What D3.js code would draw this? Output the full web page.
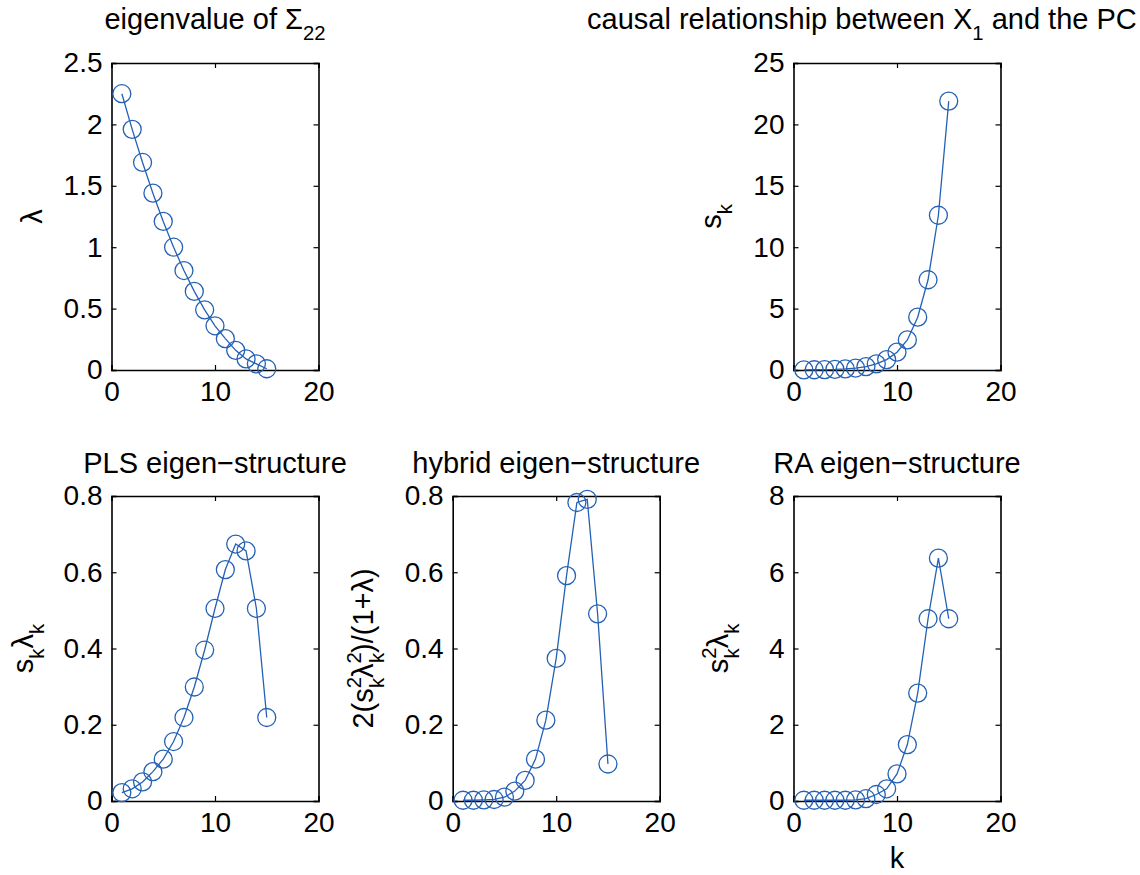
<!DOCTYPE html>
<html lang="en">
  <head>
    <meta charset="UTF-8" />
    <title>eigen-structure</title>
    <script src="https://d3js.org/d3.v7.min.js"></script>
    <style>
      body { margin: 0; background: #fff; }
      text { font-family: "Liberation Sans", Arial, Helvetica, sans-serif; fill: #000; }
    </style>
  </head>
  <body>
    <div id="chart"></div>
  </body>
</html>

<script>
  // component index
  const k = [1, 2, 3, 4, 5, 6, 7, 8, 9, 10, 11, 12, 13, 14, 15]

  // values
  const lambda = [2.25, 1.96, 1.69, 1.44, 1.21, 1.0, 0.81, 0.64, 0.49, 0.36, 0.255, 0.16, 0.09, 0.05, 0.01]
  const sk = [0.01, 0.02, 0.03, 0.05, 0.09, 0.16, 0.28, 0.5, 0.85, 1.45, 2.45, 4.3, 7.35, 12.6, 21.9]
  const pls = [0.022, 0.032, 0.05, 0.077, 0.11, 0.156, 0.219, 0.299, 0.396, 0.505, 0.607, 0.674, 0.656, 0.505, 0.219]
  const hybrid = [0.002, 0.002, 0.003, 0.004, 0.01, 0.026, 0.054, 0.11, 0.212, 0.374, 0.591, 0.783, 0.791, 0.491, 0.097]
  const ra = [0.02, 0.02, 0.02, 0.02, 0.02, 0.03, 0.06, 0.17, 0.32, 0.71, 1.48, 2.83, 4.78, 6.37, 4.78]

  // tick values
  const xTicks = [0, 10, 20]
  const lambdaTicks = [0, 0.5, 1, 1.5, 2, 2.5]
  const skTicks = [0, 5, 10, 15, 20, 25]
  const plsTicks = [0, 0.2, 0.4, 0.6, 0.8]
  const raTicks = [0, 2, 4, 6, 8]

  const blue = "#2461b5"
  const FS = 28 // tick labels
  const TS = 29 // titles and axis labels

  const svg = d3
    .select("#chart")
    .append("svg")
    .attr("width", 1140)
    .attr("height", 875)

  svg.append("rect").attr("width", 1140).attr("height", 875).attr("fill", "#fff")

  // label parts: [text, "n" | "sub" | "sup", dx]
  function richText(sel, parts, size) {
    let level = 0
    parts.forEach(([t, kind, dx]) => {
      const sp = sel.append("tspan").text(t)
      let target = 0
      if (kind === "sub") { sp.attr("font-size", size * 0.7); target = 11 }
      else if (kind === "sup") { sp.attr("font-size", size * 0.7); target = -12 }
      sp.attr("dy", target - level)
      level = target
      if (dx) sp.attr("dx", dx)
    })
  }

  function panel(opt) {
    const { x0, y0, w, h, values, yMax, yTicks, title, ylabel, ylabelX, xlabel } = opt
    const g = svg.append("g")

    const x = d3.scaleLinear().domain([0, 20]).range([x0, x0 + w])
    const y = d3.scaleLinear().domain([0, yMax]).range([y0 + h, y0])
    const fmt = (d) => d3.format("~g")(d)

    // axes, MATLAB style: ticks inside, on all four sides
    g.append("g")
      .attr("transform", `translate(0,${y0 + h})`)
      .call(d3.axisBottom(x).tickValues(xTicks).tickSize(-5).tickPadding(11).tickFormat(fmt))
    g.append("g")
      .attr("transform", `translate(0,${y0})`)
      .call(d3.axisTop(x).tickValues(xTicks).tickSize(-5).tickFormat(""))
    g.append("g")
      .attr("transform", `translate(${x0},0)`)
      .call(d3.axisLeft(y).tickValues(yTicks).tickSize(-5).tickPadding(9).tickFormat(fmt))
    g.append("g")
      .attr("transform", `translate(${x0 + w},0)`)
      .call(d3.axisRight(y).tickValues(yTicks).tickSize(-5).tickFormat(""))

    g.selectAll(".domain").attr("stroke", "#000").attr("stroke-width", 1.6)
    g.selectAll(".tick line").attr("stroke", "#000").attr("stroke-width", 1.2)
    g.selectAll(".tick text").attr("font-size", FS).attr("fill", "#000")
      .style("font-family", '"Liberation Sans", Arial, sans-serif')

    const line = d3.line().x((d, i) => x(k[i])).y((d) => y(d))
    g.append("path")
      .datum(values)
      .attr("d", line)
      .attr("fill", "none")
      .attr("stroke", blue)
      .attr("stroke-width", 1.3)

    g.selectAll("circle")
      .data(values)
      .enter()
      .append("circle")
      .attr("cx", (d, i) => x(k[i]))
      .attr("cy", (d) => y(d))
      .attr("r", 9)
      .attr("fill", "none")
      .attr("stroke", blue)
      .attr("stroke-width", 1.3)

    const t = g.append("text")
      .attr("x", opt.titleX !== undefined ? opt.titleX : x0 + w / 2)
      .attr("y", opt.titleY)
      .attr("text-anchor", opt.titleX !== undefined ? "start" : "middle")
      .attr("font-size", TS)
    richText(t, title, TS)

    const yl = g.append("text")
      .attr("transform", `translate(${ylabelX},${y0 + h / 2}) rotate(-90)`)
      .attr("text-anchor", "middle")
      .attr("font-size", TS)
    richText(yl, ylabel, TS)

    if (xlabel) {
      g.append("text")
        .attr("x", x0 + w / 2)
        .attr("y", y0 + h + 67)
        .attr("text-anchor", "middle")
        .attr("font-size", TS)
        .text(xlabel)
    }
  }

  const col = [111.5, 452.7, 793.5]
  const W = 207
  const row = [{ y: 63, h: 307 }, { y: 496, h: 305 }]

  panel({
    x0: col[0], y0: row[0].y, w: W, h: row[0].h,
    values: lambda, yMax: 2.5, yTicks: lambdaTicks, titleY: 29,
    title: [["eigenvalue of \u03a3", "n"], ["22", "sub"]],
    ylabel: [["\u03bb", "n"]], ylabelX: 42
  })

  panel({
    x0: col[2], y0: row[0].y, w: W, h: row[0].h,
    values: sk, yMax: 25, yTicks: skTicks, titleY: 29, titleX: 587,
    title: [["causal relationship between X", "n"], ["1", "sub"], [" and the PC", "n"]],
    ylabel: [["s", "n"], ["k", "sub"]], ylabelX: 721
  })

  panel({
    x0: col[0], y0: row[1].y, w: W, h: row[1].h,
    values: pls, yMax: 0.8, yTicks: plsTicks, titleY: 473,
    title: [["PLS eigen\u2212structure", "n"]],
    ylabel: [["s", "n"], ["k", "sub"], ["\u03bb", "n"], ["k", "sub"]], ylabelX: 33
  })

  panel({
    x0: col[1], y0: row[1].y, w: W, h: row[1].h,
    values: hybrid, yMax: 0.8, yTicks: plsTicks, titleY: 473,
    title: [["hybrid eigen\u2212structure", "n"]],
    ylabel: [["2(s", "n"], ["2", "sup"], ["k", "sub", -11], ["\u03bb", "n"], ["2", "sup"], ["k", "sub", -11], [")/(1+\u03bb)", "n"]],
    ylabelX: 373
  })

  panel({
    x0: col[2], y0: row[1].y, w: W, h: row[1].h,
    values: ra, yMax: 8, yTicks: raTicks, titleY: 473,
    title: [["RA eigen\u2212structure", "n"]],
    ylabel: [["s", "n"], ["2", "sup"], ["k", "sub", -11], ["\u03bb", "n"], ["k", "sub"]],
    ylabelX: 728, xlabel: "k"
  })
</script>
